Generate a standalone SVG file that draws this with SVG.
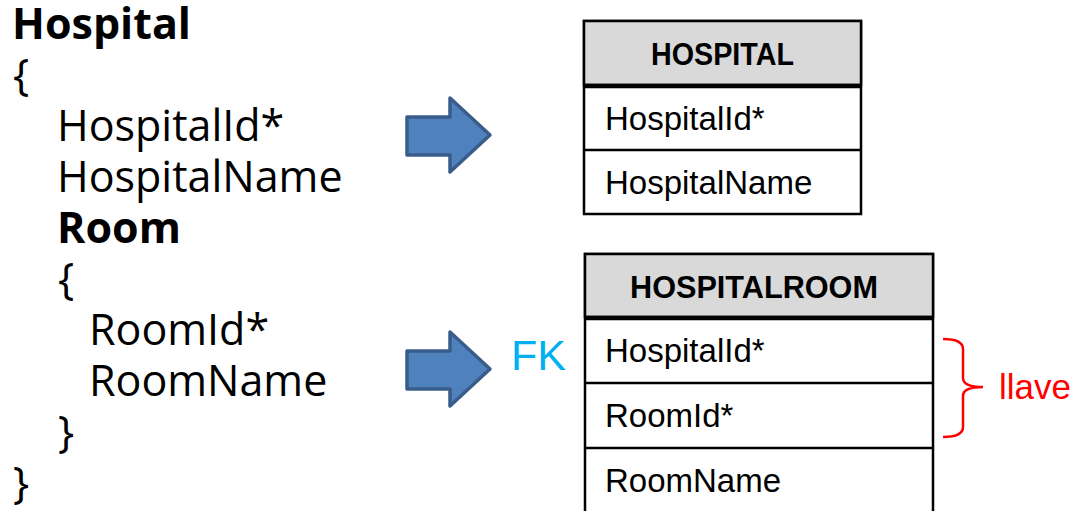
<svg xmlns="http://www.w3.org/2000/svg" width="1086" height="511" viewBox="0 0 1086 511">
<style>
.code{font-family:"Open Sans","DejaVu Sans",sans-serif;font-size:43px;fill:#000}
.b{font-weight:bold}
.cell{font-family:"Liberation Sans",Arial,sans-serif;font-size:33px;fill:#000}
.hdr{font-family:"Liberation Sans",Arial,sans-serif;font-size:31px;font-weight:bold;fill:#000}
.frame{fill:#fff;stroke:#000;stroke-width:2.5}
.head{fill:#D9D9D9;stroke:#000;stroke-width:2.5}
.sep{stroke:#000;stroke-width:2.5}
.thick{stroke:#000;stroke-width:4.5}
.arrow{fill:#4F81BD;stroke:#385D8A;stroke-width:3.5;stroke-linejoin:round}
</style>
<defs>
<path id="arr" class="arrow" d="M407,117 L450,117 L450,98 L490,135 L450,172 L450,155 L407,155 Z"/>
</defs>
<g id="code">
<text class="code b" x="12" y="39">Hospital</text>
<text class="code" x="13" y="90">{</text>
<text class="code" x="57" y="141">HospitalId*</text>
<text class="code" x="57" y="192">HospitalName</text>
<text class="code b" x="57" y="243">Room</text>
<text class="code" x="58" y="294">{</text>
<text class="code" x="89" y="345">RoomId*</text>
<text class="code" x="89" y="396">RoomName</text>
<text class="code" x="58" y="447">}</text>
<text class="code" x="13" y="498">}</text>
</g>
<g id="connectors">
<use href="#arr"/>
<use href="#arr" transform="translate(0,234)"/>
</g>
<g id="hospital">
<rect class="frame" x="584" y="21" width="277" height="193"/>
<rect class="head" x="584" y="21" width="277" height="64"/>
<line class="thick" x1="584" y1="86" x2="861" y2="86"/>
<line class="sep" x1="584" y1="150" x2="861" y2="150"/>
<text class="hdr" x="651" y="65" textLength="143" lengthAdjust="spacingAndGlyphs">HOSPITAL</text>
<text class="cell" x="605" y="130">HospitalId*</text>
<text class="cell" x="605" y="194">HospitalName</text>
</g>
<g id="hospitalroom">
<rect class="frame" x="585" y="254" width="348" height="270"/>
<rect class="head" x="585" y="254" width="348" height="63"/>
<line class="thick" x1="585" y1="318" x2="933" y2="318"/>
<line class="sep" x1="585" y1="383" x2="933" y2="383"/>
<line class="sep" x1="585" y1="448" x2="933" y2="448"/>
<text class="hdr" x="630" y="298" textLength="248" lengthAdjust="spacingAndGlyphs">HOSPITALROOM</text>
<text class="cell" x="605" y="362">HospitalId*</text>
<text class="cell" x="605" y="427">RoomId*</text>
<text class="cell" x="605" y="492">RoomName</text>
</g>
<g id="fk">
<text x="511" y="370" style="font-family:'Liberation Sans',Arial,sans-serif;font-size:43px;fill:#00B0F0">FK</text>
</g>
<g id="llave">
<path d="M943,339 Q963,339 963,349 L963,378 Q963,387 983,387 Q963,387 963,396 L963,427 Q963,437 943,437" fill="none" stroke="#FF0000" stroke-width="2.5"/>
<text x="999" y="399" style="font-family:'Liberation Sans',Arial,sans-serif;font-size:35px;fill:#FF0000">llave</text>
</g>
</svg>
